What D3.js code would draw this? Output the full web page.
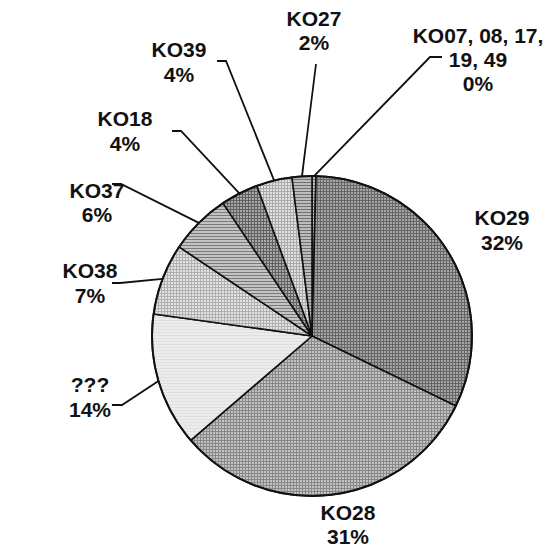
<!DOCTYPE html>
<html lang="en">
  <head>
    <meta charset='UTF-8'>
    <title>KO pie</title>
    <script src="https://d3js.org/d3.v7.min.js"></script>
    <style>
      body { margin: 0; background: #fff; }
      .lbl { font-family: "Liberation Sans", Arial, sans-serif; font-weight: bold; font-size: 21px; fill: #111; }
    </style>
  </head>

  <body>
    <svg class="main-svg" width="547" height="551"></svg>
    <script>
    // slices clockwise from 12 o'clock
    var categories = ["KO07, 08, 17, 19, 49", "KO29", "KO28", "???", "KO38", "KO37", "KO18", "KO39", "KO27"];
    var values = [0.4, 31.8, 31.5, 13.5, 7.2, 6.2, 3.8, 3.6, 2.0];
    var pctLabels = ["0%", "32%", "31%", "14%", "7%", "6%", "4%", "4%", "2%"];
    var nameLines = [["KO07, 08, 17,", "19, 49"], ["KO29"], ["KO28"], ["???"], ["KO38"], ["KO37"], ["KO18"], ["KO39"], ["KO27"]];

    // label layout: text centre x, first baseline y, leader start (tx1 -> tx2 at ty), null = no leader
    var layout = [
      {x: 478, y: 43, gap: 24, lead: [442, 430, 57]},
      {x: 502, y: 225, gap: 25, lead: null},
      {x: 348, y: 520, gap: 24, lead: null},
      {x: 90, y: 392, gap: 25, lead: [112, 122, 405]},
      {x: 90, y: 278, gap: 25, lead: [112, 120, 283]},
      {x: 97, y: 198, gap: 24, lead: [112, 121, 184]},
      {x: 125, y: 126, gap: 25, lead: [172, 181, 131]},
      {x: 179, y: 57, gap: 25, lead: [217, 226, 61]},
      {x: 314, y: 26, gap: 24, lead: [316, 316, 64]}
    ];

    var cx = 312, cy = 336, r = 160;
    var svg = d3.select("svg");
    var defs = svg.append("defs");

    // grey hatch fills like the scanned print
    function hatch(id, bg, fg, cross) {
      var p = defs.append("pattern").attr("id", id).attr("patternUnits", "userSpaceOnUse")
        .attr("width", 3).attr("height", 3);
      p.append("rect").attr("width", 3).attr("height", 3).attr("fill", bg);
      p.append("rect").attr("y", 2).attr("width", 3).attr("height", 1).attr("fill", fg);
      if (cross) p.append("rect").attr("x", 2).attr("width", 1).attr("height", 3).attr("fill", fg);
    }
    hatch("pK07", "#bdbdbd", "#6a6a6a", false);
    hatch("pK29", "#a4a4a4", "#666", true);
    hatch("pK28", "#c2c2c2", "#888", true);
    hatch("pQQ", "#ececec", "#e0e0e0", false);
    hatch("pK38", "#e2e2e2", "#b0b0b0", true);
    hatch("pK37", "#c4c4c4", "#7a7a7a", false);
    hatch("pK18", "#a8a8a8", "#606060", true);
    hatch("pK39", "#e0e0e0", "#aaa", true);
    hatch("pK27", "#bcbcbc", "#707070", false);
    var fills = ["pK07", "pK29", "pK28", "pQQ", "pK38", "pK37", "pK18", "pK39", "pK27"];

    var pie = d3.pie().sort(null).value(function(d) { return d; });
    var arcs = pie(values);
    var arc = d3.arc().innerRadius(0).outerRadius(r);
    var edge = d3.arc().innerRadius(r).outerRadius(r);

    var g = svg.append("g").attr("transform", "translate(" + cx + "," + cy + ")");
    g.selectAll("path.slice")
      .data(arcs)
      .enter()
      .append("path")
        .attr("class", "slice")
        .attr("d", arc)
        .attr("fill", function(d, i) { return "url(#" + fills[i] + ")"; })
        .attr("stroke", "#111")
        .attr("stroke-width", 1.6)
        .attr("stroke-linejoin", "round");

    g.append("circle").attr("r", r).attr("fill", "none").attr("stroke", "#111").attr("stroke-width", 2);

    // leaders
    arcs.forEach(function(d, i) {
      var L = layout[i];
      if (!L.lead) return;
      var p = edge.centroid(d);
      var pts = [[L.lead[0], L.lead[2]], [L.lead[1], L.lead[2]], [p[0] + cx, p[1] + cy]];
      svg.append("path")
        .attr("d", d3.line()(pts))
        .attr("fill", "none")
        .attr("stroke", "#111")
        .attr("stroke-width", 1.8);
    });

    // labels
    categories.forEach(function(c, i) {
      var L = layout[i];
      var lines = nameLines[i].concat([pctLabels[i]]);
      var t = svg.append("text").attr("class", "lbl").attr("text-anchor", "middle");
      lines.forEach(function(s, k) {
        t.append("tspan").attr("x", L.x).attr("y", L.y + k * L.gap).text(s);
      });
    });
    </script>
  </body>
</html>
